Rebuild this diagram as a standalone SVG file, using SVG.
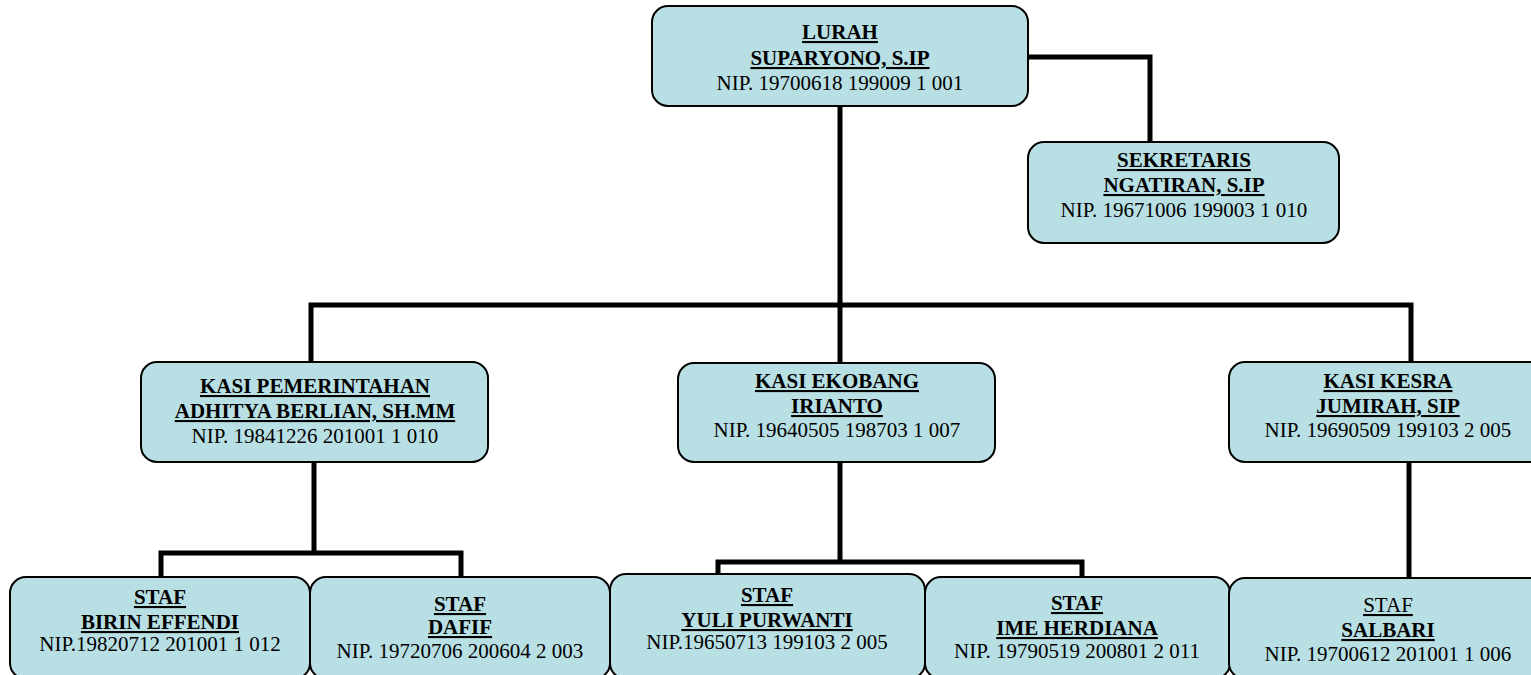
<svg xmlns="http://www.w3.org/2000/svg" width="1531" height="675" viewBox="0 0 1531 675">
<style>
.box{fill:#b8dfe3;stroke:#000;stroke-width:2}
.t{font-family:"Liberation Serif","Times New Roman",serif;font-size:21px;fill:#000;text-anchor:middle}
.h{font-weight:bold;text-decoration:underline}
.u{text-decoration:underline}
.c{fill:none;stroke:#000;stroke-width:5;stroke-linejoin:miter}
</style>
<rect width="1531" height="675" fill="#fff"/>
<g id="connectors">
<path class="c" d="M840 106 V305"/>
<path class="c" d="M1028 57 H1150 V142"/>
<path class="c" d="M311 362 V305 H1411 V362"/>
<path class="c" d="M840 305 V363"/>
<path class="c" d="M314 462 V553"/>
<path class="c" d="M161 577 V553 H461 V577"/>
<path class="c" d="M840 462 V561"/>
<path class="c" d="M718 574 V562 H840 L1082 562 V577"/>
<path class="c" d="M1409 462 V578"/>
</g>
<g id="lurah">
<rect class="box" x="652" y="6" width="376" height="100" rx="16"/>
<text class="t h" x="840" y="39">LURAH</text>
<text class="t h" x="840" y="65">SUPARYONO, S.IP</text>
<text class="t" x="840" y="90">NIP. 19700618 199009 1 001</text>
</g>
<g id="sekretaris">
<rect class="box" x="1028" y="142" width="311" height="101" rx="16"/>
<text class="t h" x="1184" y="167">SEKRETARIS</text>
<text class="t h" x="1184" y="192">NGATIRAN, S.IP</text>
<text class="t" x="1184" y="217">NIP. 19671006 199003 1 010</text>
</g>
<g id="kasi-pemerintahan">
<rect class="box" x="141" y="362" width="347" height="100" rx="16"/>
<text class="t h" x="315" y="393">KASI PEMERINTAHAN</text>
<text class="t h" x="315" y="418">ADHITYA BERLIAN, SH.MM</text>
<text class="t" x="315" y="443">NIP. 19841226 201001 1 010</text>
</g>
<g id="kasi-ekobang">
<rect class="box" x="678" y="363" width="317" height="99" rx="16"/>
<text class="t h" x="837" y="388">KASI EKOBANG</text>
<text class="t h" x="837" y="413">IRIANTO</text>
<text class="t" x="837" y="437">NIP. 19640505 198703 1 007</text>
</g>
<g id="kasi-kesra">
<rect class="box" x="1229" y="362" width="318" height="100" rx="16"/>
<text class="t h" x="1388" y="388">KASI KESRA</text>
<text class="t h" x="1388" y="413">JUMIRAH, SIP</text>
<text class="t" x="1388" y="437">NIP. 19690509 199103 2 005</text>
</g>
<g id="staf-birin">
<rect class="box" x="10" y="577" width="300" height="102" rx="16"/>
<text class="t h" x="160" y="604">STAF</text>
<text class="t h" x="160" y="629">BIRIN EFFENDI</text>
<text class="t" x="160" y="651">NIP.19820712 201001 1 012</text>
</g>
<g id="staf-dafif">
<rect class="box" x="310" y="577" width="300" height="102" rx="16"/>
<text class="t h" x="460" y="611">STAF</text>
<text class="t h" x="460" y="634">DAFIF</text>
<text class="t" x="460" y="658">NIP. 19720706 200604 2 003</text>
</g>
<g id="staf-yuli">
<rect class="box" x="610" y="574" width="315" height="105" rx="16"/>
<text class="t h" x="767" y="602">STAF</text>
<text class="t h" x="767" y="627">YULI PURWANTI</text>
<text class="t" x="767" y="649">NIP.19650713 199103 2 005</text>
</g>
<g id="staf-ime">
<rect class="box" x="925" y="577" width="305" height="102" rx="16"/>
<text class="t h" x="1077" y="610">STAF</text>
<text class="t h" x="1077" y="635">IME HERDIANA</text>
<text class="t" x="1077" y="658">NIP. 19790519 200801 2 011</text>
</g>
<g id="staf-salbari">
<rect class="box" x="1229" y="578" width="318" height="101" rx="16"/>
<text class="t u" x="1388" y="612">STAF</text>
<text class="t h" x="1388" y="637">SALBARI</text>
<text class="t" x="1388" y="661">NIP. 19700612 201001 1 006</text>
</g>
</svg>
